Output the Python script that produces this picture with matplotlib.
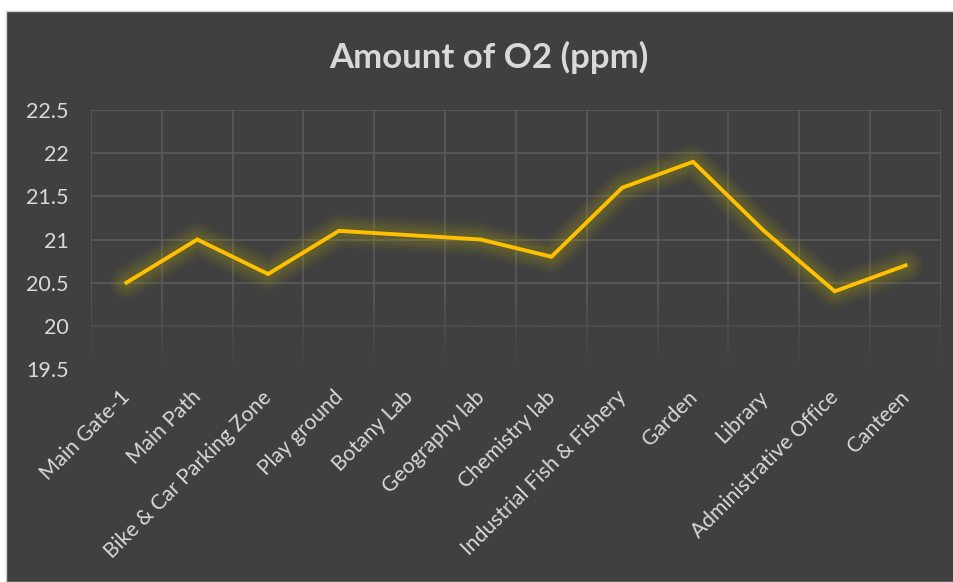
import matplotlib.pyplot as plt
import matplotlib.patches as mpatches
import matplotlib.transforms as mtransforms
import numpy as np

# sampling sites and measured oxygen levels
sites = ["Main Gate-1", "Main Path", "Bike & Car Parking Zone", "Play ground",
         "Botany Lab", "Geography lab", "Chemistry lab",
         "Industrial Fish & Fishery", "Garden", "Library",
         "Administrative Office", "Canteen"]
o2_ppm = [20.5, 21.0, 20.6, 21.1, 21.05, 21.0, 20.8, 21.6, 21.9, 21.1, 20.4, 20.7]
y_ticks = [19.5, 20, 20.5, 21, 21.5, 22, 22.5]

BG = "#404040"
GRID = "#5a5a5a"
TEXT = "#d9d9d9"
LINE = "#ffc000"

plt.rcParams['font.family'] = ['Lato', 'DejaVu Sans']

fig = plt.figure(figsize=(9.54, 5.82), dpi=100)
fig.patch.set_facecolor("white")
# dark chart panel with a thin light border
fig.patches.append(mpatches.Rectangle((6 / 954, 0), 948 / 954, 571 / 582,
                                      transform=fig.transFigure,
                                      facecolor=BG, edgecolor="#d0d0d0",
                                      linewidth=1.0, zorder=-1))

ax = fig.add_axes([91 / 954, 1 - 369 / 582, 850 / 954, 259 / 582])
ax.set_facecolor(BG)
for s in ax.spines.values():
    s.set_visible(False)

x = np.arange(len(sites))

# gridlines: horizontal at value ticks, vertical between categories
for yv in y_ticks:
    ax.axhline(yv, color=GRID, lw=1.2, zorder=1)
for xb in np.arange(-0.5, len(sites), 1.0):
    ax.axvline(xb, color=GRID, lw=1.2, zorder=1)

# fade the grid out toward the bottom
grad = np.zeros((100, 1, 4))
grad[:, 0, :3] = np.array([0x40, 0x40, 0x40]) / 255
grad[:, 0, 3] = np.linspace(0, 1, 100) ** 0.8
ax.imshow(grad, extent=(-0.6, len(sites) - 0.4, y_ticks[0] - 0.02, 20.3),
          origin="upper", aspect="auto", zorder=1.5, interpolation="bilinear")

# soft glow under the line
for w, a in [(24, 0.04), (20, 0.045), (16, 0.05), (12, 0.055), (8, 0.055)]:
    ax.plot(x, o2_ppm, color="#d8c400", lw=w, alpha=a, solid_capstyle="round",
            solid_joinstyle="round", zorder=2)
ax.plot(x, o2_ppm, color=LINE, lw=2.8, solid_joinstyle="miter", zorder=3)

ax.set_xlim(-0.5, len(sites) - 0.5)
ax.set_ylim(y_ticks[0], y_ticks[-1])
ax.set_yticks(y_ticks)
ax.set_yticklabels([f"{v:g}" for v in y_ticks])
ax.set_xticks(x)
ax.set_xticklabels(sites, rotation=45, ha="right", va="baseline",
                   rotation_mode="anchor")
ax.tick_params(axis="y", length=0, pad=16, colors=TEXT, labelsize=15.5)
ax.tick_params(axis="x", length=0, pad=21, colors=TEXT, labelsize=15.2)

# nudge the slanted labels a little to the right
shift = mtransforms.ScaledTranslation(5 / 100, 0, fig.dpi_scale_trans)
for lbl in ax.get_xticklabels():
    lbl.set_transform(lbl.get_transform() + shift)

fig.text(489 / 954, 1 - 57 / 582, "Amount of O2 (ppm)", color=TEXT,
         fontsize=25, fontweight="bold", ha="center", va="center")

fig.savefig("out.png", dpi=100, facecolor=fig.get_facecolor())
